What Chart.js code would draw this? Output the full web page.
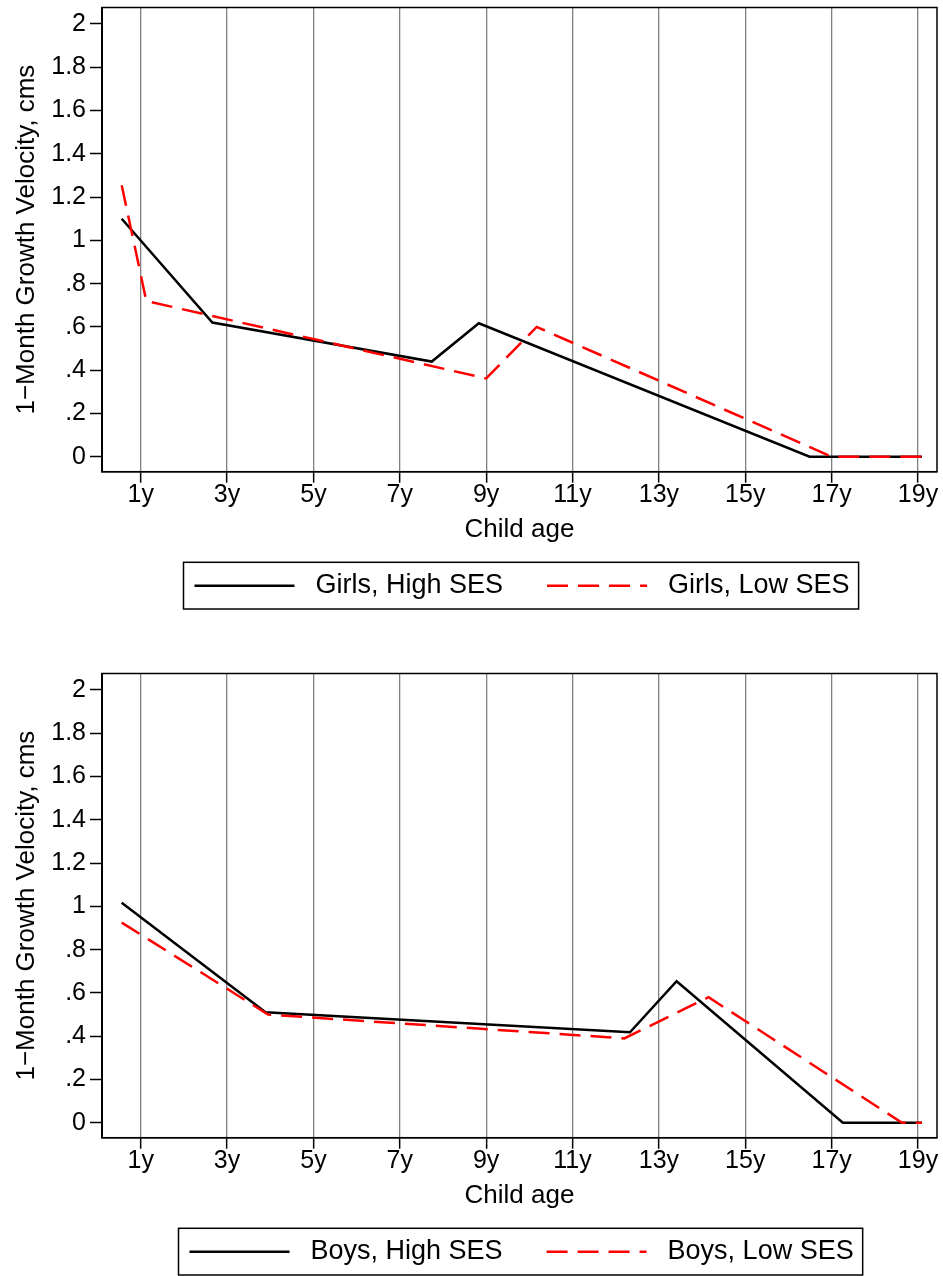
<!DOCTYPE html>
<html>
<head>
<meta charset="utf-8">
<script src="https://cdn.jsdelivr.net/npm/chart.js@4/dist/chart.umd.min.js"></script>
<style>
  body { margin: 0; background: #fff; overflow: hidden; }
  .panel { position: absolute; left: 0; width: 943px; height: 666px; }
  #top { top: 0; }
  #bottom { top: 666px; }
</style>
</head>
<body>
<div class="panel" id="top"><canvas id="girlsChart" width="943" height="666"></canvas></div>
<div class="panel" id="bottom"><canvas id="boysChart" width="943" height="666"></canvas></div>

<script>
// ages (years) and 1-month velocity (cm) for each group
const ageGirlsHigh = [0.56, 2.66, 7.74, 8.83, 16.49, 19.09];
const velGirlsHigh = [1.10, 0.62, 0.44, 0.617, 0, 0];
const ageGirlsLow  = [0.56, 1.13, 9.0, 10.17, 17.0, 19.09];
const velGirlsLow  = [1.255, 0.72, 0.362, 0.60, 0, 0];

const ageBoysHigh = [0.56, 3.89, 12.33, 13.41, 17.26, 19.09];
const velBoysHigh = [1.017, 0.511, 0.418, 0.654, 0, 0];
const ageBoysLow  = [0.56, 3.95, 12.2, 14.15, 18.63, 19.09];
const velBoysLow  = [0.925, 0.50, 0.39, 0.58, 0, 0];

const xTicks = [1, 3, 5, 7, 9, 11, 13, 15, 17, 19];
const yTicks = [0, 0.2, 0.4, 0.6, 0.8, 1, 1.2, 1.4, 1.6, 1.8, 2];

const FONT = '"Liberation Sans", Arial, Helvetica, sans-serif';

function toPoints(xs, ys) {
    return xs.map((x, i) => ({ x: x, y: ys[i] }));
}

// Stata style labels: ".2" instead of "0.2"
function velLabel(v) {
    if (Number.isInteger(v)) return String(v);
    return v.toFixed(1).replace(/^0/, '');
}

// labels never push the plot region in
function noLabelPadding(scale) {
    scale.paddingTop = 0;
    scale.paddingBottom = 0;
    scale.paddingLeft = 0;
    scale.paddingRight = 0;
}

// box round the plot region
const frame = {
    id: 'frame',
    afterDatasetsDraw(chart) {
        const { ctx, chartArea: a } = chart;
        ctx.save();
        ctx.strokeStyle = '#000';
        ctx.lineWidth = 1.5;
        ctx.strokeRect(a.left, a.top, a.right - a.left, a.bottom - a.top);
        ctx.restore();
    }
};

// boxed legend under the axis title
const boxLegend = {
    id: 'boxLegend',
    afterDraw(chart) {
        const { ctx, chartArea } = chart;
        const sets = chart.data.datasets;
        ctx.save();
        ctx.font = '27px ' + FONT;
        const widths = sets.map(d => ctx.measureText(d.label).width);
        const padL = 11, padR = 9, lineLen = 100, gapText = 21, gapItem = 44;
        let total = padL + padR;
        sets.forEach((d, i) => {
            total += lineLen + gapText + widths[i];
            if (i > 0) total += gapItem;
        });
        const top = chartArea.bottom + 90.6;
        const h = 46.7;
        const left = Math.round((chartArea.left + chartArea.right) / 2 - total / 2) + 1.5;
        ctx.strokeStyle = '#000';
        ctx.lineWidth = 1.5;
        ctx.strokeRect(left, top, total, h);

        const midY = top + h / 2;
        let x = left + padL;
        sets.forEach((d, i) => {
            if (i > 0) x += gapItem;
            ctx.beginPath();
            ctx.setLineDash(d.borderDash || []);
            ctx.strokeStyle = d.borderColor;
            ctx.lineWidth = d.borderWidth;
            ctx.moveTo(x, midY);
            ctx.lineTo(x + lineLen, midY);
            ctx.stroke();
            ctx.setLineDash([]);
            x += lineLen + gapText;
            ctx.fillStyle = '#000';
            ctx.textBaseline = 'middle';
            ctx.textAlign = 'left';
            ctx.fillText(d.label, x, midY);
            x += widths[i];
        });
        ctx.restore();
    }
};

function makeChart(canvasId, highLabel, highX, highY, lowLabel, lowX, lowY) {
    const ctx = document.getElementById(canvasId).getContext('2d');
    return new Chart(ctx, {
        type: 'line',
        data: {
            datasets: [
                {
                    label: highLabel,
                    data: toPoints(highX, highY),
                    borderColor: '#000',
                    borderWidth: 2.5,
                    pointRadius: 0,
                    tension: 0,
                    fill: false,
                    order: 1
                },
                {
                    label: lowLabel,
                    data: toPoints(lowX, lowY),
                    borderColor: '#ff0000',
                    borderWidth: 2.5,
                    borderDash: [21, 10],
                    pointRadius: 0,
                    tension: 0,
                    fill: false,
                    order: 0
                }
            ]
        },
        options: {
            responsive: false,
            animation: false,
            layout: { padding: { top: 7.5, right: 6, bottom: 114.3, left: 0 } },
            plugins: {
                legend: { display: false },
                tooltip: { enabled: false }
            },
            scales: {
                x: {
                    type: 'linear',
                    min: 0.104,
                    max: 19.44,
                    afterBuildTicks: scale => { scale.ticks = xTicks.map(v => ({ value: v })); },
                    afterFit: scale => { scale.height = 80; noLabelPadding(scale); },
                    ticks: {
                        color: '#000',
                        font: { family: FONT, size: 25 },
                        padding: -3,
                        maxRotation: 0,
                        callback: v => v + 'y'
                    },
                    grid: {
                        display: true,
                        drawOnChartArea: true,
                        color: '#808080',
                        lineWidth: 1.3,
                        tickColor: '#000',
                        tickWidth: 1.5,
                        tickLength: 11
                    },
                    border: { display: true, color: '#000', width: 1.5 },
                    title: {
                        display: true,
                        text: 'Child age',
                        color: '#000',
                        font: { family: FONT, size: 26 },
                        padding: { top: 0, bottom: 6 }
                    }
                },
                y: {
                    type: 'linear',
                    min: -0.069,
                    max: 2.076,
                    afterBuildTicks: scale => { scale.ticks = yTicks.map(v => ({ value: v })); },
                    afterFit: scale => { scale.width = 102; noLabelPadding(scale); },
                    ticks: {
                        color: '#000',
                        font: { family: FONT, size: 25 },
                        padding: 4,
                        callback: v => velLabel(v)
                    },
                    grid: {
                        display: true,
                        drawOnChartArea: false,
                        tickColor: '#000',
                        tickWidth: 1.5,
                        tickLength: 12
                    },
                    border: { display: true, color: '#000', width: 2 },
                    title: {
                        display: true,
                        text: '1\u2212Month Growth Velocity, cms',
                        color: '#000',
                        font: { family: FONT, size: 26 },
                        padding: { top: 11, bottom: 0 }
                    }
                }
            }
        },
        plugins: [frame, boxLegend]
    });
}

makeChart('girlsChart', 'Girls, High SES', ageGirlsHigh, velGirlsHigh,
          'Girls, Low SES', ageGirlsLow, velGirlsLow);
makeChart('boysChart', 'Boys, High SES', ageBoysHigh, velBoysHigh,
          'Boys, Low SES', ageBoysLow, velBoysLow);
</script>
</body>
</html>
